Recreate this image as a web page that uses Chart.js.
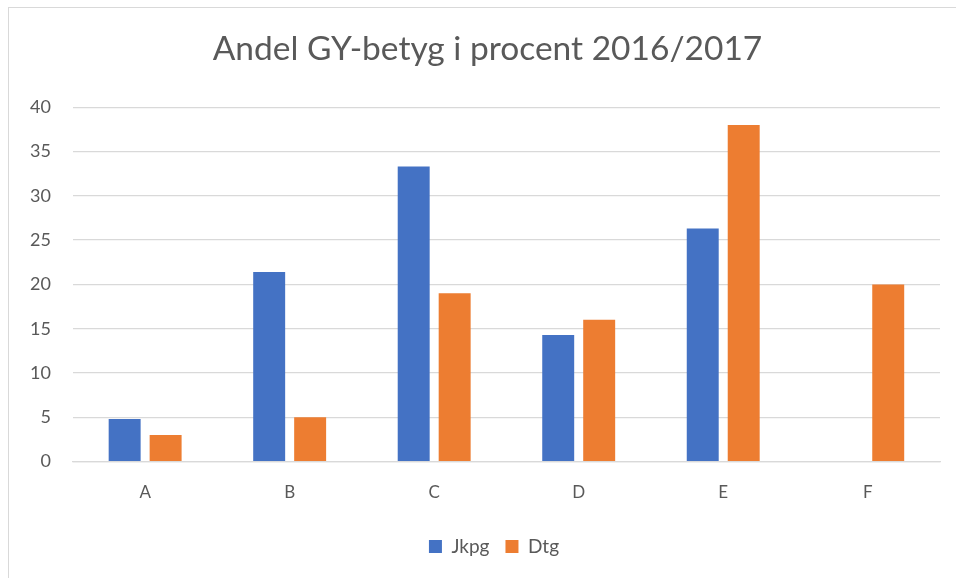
<!DOCTYPE html>
<html>
<head>
<meta charset="utf-8">
<script src="https://cdn.jsdelivr.net/npm/chart.js@4"></script>
<style>
  html, body { margin: 0; padding: 0; background: #fff; overflow: hidden; }
  .ram { position: absolute; left: 8px; top: 7px; width: 960px; height: 600px; border: 1px solid #d9d9d9; box-sizing: border-box; }
  .contenedor { position: absolute; left: 0; top: 0; width: 956px; height: 578px; }
</style>
</head>
<body>
<div class="ram"></div>
<div class="contenedor"><canvas id="Grafico" width="956" height="578"></canvas></div>
<script>
const kategorier = ['A', 'B', 'C', 'D', 'E', 'F'];
const jkpg = [4.8, 21.4, 33.3, 14.3, 26.3, 0];
const dtg = [3, 5, 19, 16, 38, 20];
const titel = 'Andel GY-betyg i procent 2016/2017';

// Excel centrerar titel och legend lite till höger om diagrammet
const flyttaRubrik = {
    id: 'flyttaRubrik',
    afterLayout(chart) {
        chart.titleBlock.left = 35;
        chart.legend.left = 48;
    }
};

document.addEventListener("DOMContentLoaded", function(){
    let ctx = document.getElementById('Grafico').getContext('2d');
    let graphic = new Chart(ctx, {
        type: 'bar',
        data: {
            labels: kategorier,
            datasets: [{
                label: 'Jkpg',
                data: jkpg,
                backgroundColor: '#4472C4',
                borderWidth: 0
            }, {
                label: 'Dtg',
                data: dtg,
                backgroundColor: '#ED7D31',
                borderWidth: 0
            }]
        },
        options: {
            responsive: false,
            animation: false,
            layout: { padding: { left: 8, right: 16, top: 14, bottom: 12 } },
            categoryPercentage: 0.567,
            barPercentage: 0.78,
            plugins: {
                title: {
                    display: true,
                    text: titel,
                    color: '#595959',
                    font: { family: 'Lato', size: 33.5, weight: 'normal' },
                    padding: { top: 15, bottom: 38 }
                },
                legend: {
                    position: 'bottom',
                    labels: {
                        color: '#595959',
                        font: { family: 'Lato', size: 19 },
                        boxWidth: 13,
                        boxHeight: 13,
                        padding: 16
                    }
                },
                tooltip: { enabled: false }
            },
            scales: {
                x: {
                    grid: { display: false },
                    border: { color: '#d9d9d9', width: 1.3 },
                    afterFit: function(scale) { scale.height += 5; },
                    ticks: { color: '#595959', font: { family: 'Lato', size: 17 }, padding: 13 }
                },
                y: {
                    min: 0,
                    max: 40,
                    ticks: { stepSize: 5, color: '#595959', font: { family: 'Lato', size: 18 }, padding: 22 },
                    grid: { color: '#d9d9d9', lineWidth: 1.3, drawTicks: false },
                    border: { display: false }
                }
            }
        },
        plugins: [flyttaRubrik]
    });
});
</script>
</body>
</html>
